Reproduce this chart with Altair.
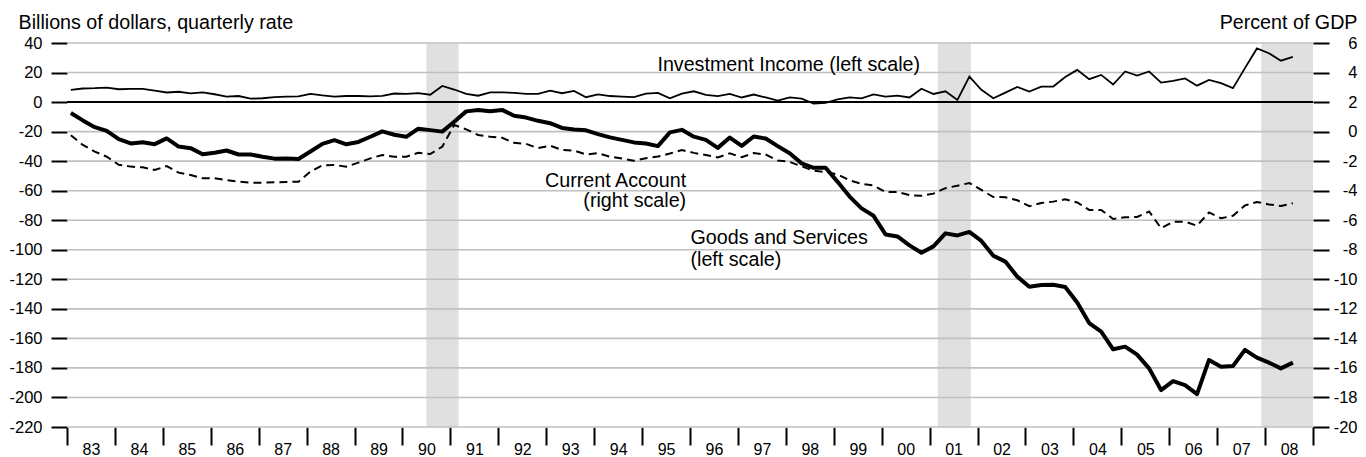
import altair as alt
import pandas as pd

# ---------------- data ----------------
quarters = [f"{y}Q{q}" for y in range(1983, 2009) for q in range(1, 5)][:103]

goods = [
    -7.4, -12.4, -17.0, -19.5,
    -25.1, -28.0, -27.2, -28.5,
    -24.6, -30.1, -31.2, -35.3,
    -34.3, -32.8, -35.5, -35.5,
    -37.0, -38.3, -38.2, -38.5,
    -33.5, -28.3, -25.8, -28.6,
    -27.0, -23.5, -19.8, -22.1,
    -23.5, -18.0, -19.0, -20.0,
    -13.3, -6.3, -5.3, -6.2,
    -5.3, -9.3, -10.5, -12.7,
    -14.3, -17.5, -18.6, -19.1,
    -21.7, -23.9, -25.6, -27.3,
    -28.0, -29.8, -20.5, -18.8,
    -23.4, -25.6, -31.0, -24.0,
    -29.7, -23.3, -24.7, -29.8,
    -34.7, -41.5, -44.5, -44.5,
    -54.0, -64.0, -72.0, -77.0,
    -89.6, -91.0, -97.0, -102.0,
    -97.7, -88.9, -90.3, -87.9,
    -94.0, -104.0, -108.0, -118.2,
    -125.0, -123.9, -123.7, -125.2,
    -135.7, -149.6, -155.5, -167.4,
    -165.6, -171.0, -180.3, -195.0,
    -188.9, -191.6, -197.7, -174.6,
    -179.2, -178.7, -167.8, -173.0,
    -176.4, -180.3, -176.4,
]

income = [
    8.3, 9.2, 9.4, 9.8,
    8.7, 9.0, 9.0, 7.8,
    6.5, 7.0, 5.9, 6.5,
    5.3, 3.7, 4.1, 2.3,
    2.6, 3.4, 3.7, 3.9,
    5.5, 4.5, 3.7, 4.1,
    4.1, 3.8, 4.2, 5.8,
    5.5, 6.1, 5.0, 10.9,
    8.5, 5.5, 4.3, 6.6,
    6.6, 6.2, 5.6, 5.6,
    7.7, 6.0, 7.6, 3.3,
    5.2, 4.1, 3.7, 3.3,
    5.7, 6.2, 2.6, 5.7,
    7.3, 4.9, 4.0, 5.6,
    3.1, 5.1, 3.1, 1.0,
    3.2, 2.3, -1.0, -0.5,
    1.9, 3.2, 2.5, 5.2,
    3.7, 4.3, 3.1, 9.0,
    5.5, 7.3, 1.5, 17.3,
    8.3, 2.6, 6.4, 10.3,
    7.1, 10.4, 10.5, 17.0,
    21.8, 15.5, 18.4, 11.9,
    20.7, 17.9, 20.7, 13.2,
    14.4, 16.0, 11.1, 15.0,
    12.8, 9.4, 23.0, 36.3,
    33.1, 28.0, 30.6,
]

current = [
    -0.25, -0.90, -1.35, -1.70,
    -2.25, -2.37, -2.42, -2.60,
    -2.33, -2.78, -2.94, -3.16,
    -3.16, -3.28, -3.39, -3.46,
    -3.46, -3.43, -3.41, -3.39,
    -2.71, -2.28, -2.26, -2.37,
    -2.10, -1.81, -1.58, -1.70,
    -1.70, -1.43, -1.52, -1.02,
    0.45, 0.15, -0.23, -0.34,
    -0.42, -0.76, -0.83, -1.12,
    -0.95, -1.24, -1.28, -1.55,
    -1.46, -1.70, -1.82, -1.97,
    -1.80, -1.69, -1.48, -1.25,
    -1.44, -1.58, -1.75, -1.47,
    -1.74, -1.45, -1.55, -1.95,
    -2.05, -2.35, -2.65, -2.73,
    -2.90, -3.30, -3.53, -3.65,
    -4.10, -4.08, -4.30, -4.35,
    -4.20, -3.83, -3.66, -3.48,
    -3.95, -4.43, -4.44, -4.65,
    -5.05, -4.83, -4.74, -4.58,
    -4.80, -5.30, -5.30, -5.92,
    -5.80, -5.78, -5.41, -6.54,
    -6.10, -6.10, -6.37, -5.47,
    -5.87, -5.70, -5.00, -4.76,
    -4.93, -5.04, -4.85,
]

rec_start = [1990.5, 2001.17, 2007.92]
rec_end = [1991.17, 2001.86, 2009.0]

left_ticks = list(range(-220, 41, 20))
right_ticks = list(range(-20, 7, 2))
year_ticks = list(range(1983, 2010))

# ---------------- frames ----------------
t = [int(q[:4]) + (int(q[-1]) - 1) / 4 + 0.08 for q in quarters]
df = pd.DataFrame({"t": t, "goods": goods, "income": income, "current": current})
rec = pd.DataFrame({"start": rec_start, "end": rec_end})
grid = pd.DataFrame({"v": left_ticks})

W, H = 1246, 384
FONT = "Liberation Sans"
LBL = 16.5
TTL = 19.7

xs = alt.Scale(domain=[1983, 2009], nice=False, zero=False)
ys = alt.Scale(domain=[-220, 40], nice=False, zero=False)
rs = alt.Scale(domain=[-20, 6], nice=False, zero=False)

xaxis = alt.Axis(
    values=year_ticks,
    labelExpr="datum.value < 2009 ? substring(toString(datum.value), 2, 4) : ''",
    labelOffset=24, labelFlush=False, labelOverlap=False,
    tickSize=18, tickWidth=2, tickColor="black",
    domain=False, grid=False,
    labelFont=FONT, labelFontSize=16, labelColor="black",
    labelPadding=-4, labelBaseline="top", title=None,
)

yaxis = alt.Axis(
    values=left_ticks, labelExpr="'' + datum.value",
    tickSize=16, tickWidth=2, tickColor="black",
    domain=False, grid=False,
    labelFont=FONT, labelFontSize=LBL, labelColor="black", labelPadding=9,
    title="Billions of dollars, quarterly rate", titleAngle=0,
    titleX=-49, titleY=-15, titleAlign="left", titleBaseline="alphabetic",
    titleFont=FONT, titleFontSize=TTL, titleFontWeight="normal", titleColor="black",
)

raxis = alt.Axis(
    orient="right", values=right_ticks, labelExpr="'' + datum.value",
    tickSize=16, tickWidth=2, tickColor="black",
    domain=False, grid=False,
    labelFont=FONT, labelFontSize=LBL, labelColor="black",
    labelAlign="right", labelPadding=28,
    title="Percent of GDP", titleAngle=0,
    titleX=44, titleY=-15, titleAlign="right", titleBaseline="alphabetic",
    titleFont=FONT, titleFontSize=TTL, titleFontWeight="normal", titleColor="black",
)

base = alt.Chart(df)

shade = alt.Chart(rec).mark_rect(color="#e0e0e0").encode(
    x=alt.X("start:Q", scale=xs, axis=xaxis),
    x2="end:Q",
    y=alt.value(0), y2=alt.value(H),
)

gridlines = alt.Chart(grid).mark_rule(color="#c0c0c0", strokeWidth=1.6).encode(
    y=alt.Y("v:Q", scale=ys, axis=yaxis)
)

zero = alt.Chart(pd.DataFrame({"v": [0]})).mark_rule(color="black", strokeWidth=2).encode(
    y=alt.Y("v:Q", scale=ys, axis=yaxis)
)

inc_line = base.mark_line(color="black", strokeWidth=1.8).encode(
    x=alt.X("t:Q", scale=xs, axis=xaxis),
    y=alt.Y("income:Q", scale=ys, axis=yaxis),
)

goods_line = base.mark_line(color="black", strokeWidth=4, strokeJoin="round").encode(
    x=alt.X("t:Q", scale=xs, axis=xaxis),
    y=alt.Y("goods:Q", scale=ys, axis=yaxis),
)


def label(txt, xv, yv, align):
    return alt.Chart(pd.DataFrame({"s": [txt]})).mark_text(
        align=align, baseline="alphabetic", font=FONT, fontSize=TTL, color="black"
    ).encode(
        x=alt.X(datum=xv, scale=xs, axis=xaxis),
        y=alt.Y(datum=yv, scale=ys, axis=yaxis),
        text="s:N",
    )


labels = [
    label("Investment Income (left scale)", 1995.32, 21.0, "left"),
    label("Current Account", 1995.92, -57.5, "right"),
    label("(right scale)", 1995.92, -71.0, "right"),
    label("Goods and Services", 1996.01, -96.3, "left"),
    label("(left scale)", 1996.01, -111.2, "left"),
]

left_group = alt.layer(shade, gridlines, zero, inc_line, goods_line, *labels)

ca_line = base.mark_line(color="black", strokeWidth=2, strokeDash=[8, 5]).encode(
    x=alt.X("t:Q", scale=xs, axis=xaxis),
    y=alt.Y("current:Q", scale=rs, axis=raxis),
)

chart = (
    alt.layer(left_group, ca_line)
    .resolve_scale(y="independent")
    .properties(
        width=W, height=H,
        autosize=alt.AutoSizeParams(type="none"),
        padding={"left": 59, "top": 35, "right": 45, "bottom": 30},
        background="white",
    )
    .configure_view(stroke=None)
)

chart.save("out.html", embed_options={"renderer": "svg", "actions": False})
